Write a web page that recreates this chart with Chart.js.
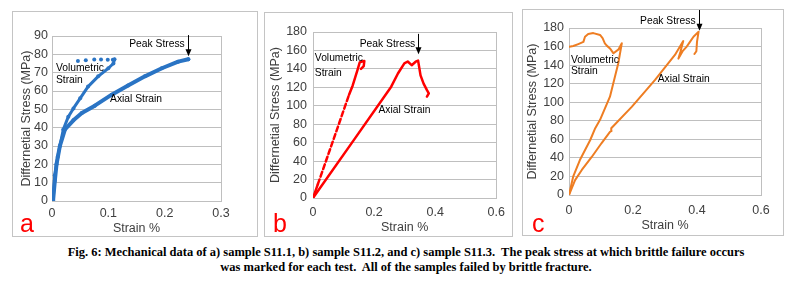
<!DOCTYPE html>
<html>
<head>
<meta charset="utf-8">
<script src="https://cdn.jsdelivr.net/npm/chart.js@4.4.1/dist/chart.umd.min.js"></script>
<style>
  body { margin: 0; background: #fff; }
  #fig { position: relative; width: 786px; height: 287px; overflow: hidden; font-family: 'Liberation Sans', Arial, sans-serif; }
  .panel { position: absolute; border: 1px solid #c4c4c4; }
  .panel canvas { display: block; }
  .tag { position: absolute; color: #ff0000; font-size: 25px; line-height: 25px; }
  .cap { position: absolute; left: 406px; white-space: pre; line-height: 14px; color: #000;
         font: bold 12px 'Liberation Serif', 'Times New Roman', serif; transform-origin: 0 0; }
</style>
</head>
<body>
<div id="fig">
  <div class="panel" style="left:12px;top:11px;width:244px;height:224px"><canvas id="ca" width="244" height="224"></canvas></div>
  <div class="panel" style="left:264px;top:12px;width:247px;height:223px"><canvas id="cb" width="247" height="223"></canvas></div>
  <div class="panel" style="left:522px;top:9px;width:260px;height:225px"><canvas id="cc" width="260" height="225"></canvas></div>
  <div class="tag" style="left:20px;top:211px">a</div>
  <div class="tag" style="left:273px;top:211px">b</div>
  <div class="tag" style="left:532px;top:211px">c</div>
  <div class="cap" id="cap1" style="top:245px">Fig. 6: Mechanical data of a) sample S11.1, b) sample S11.2, and c) sample S11.3.  The peak stress at which brittle failure occurs</div>
  <div class="cap" id="cap2" style="top:260px">was marked for each test.  All of the samples failed by brittle fracture.</div>
</div>
<script>
const FONT = "'Liberation Sans', Arial, sans-serif";
const TICK = '#404040';
const GRID = '#bfbfbf';
Chart.defaults.font.family = FONT;

// a) sample S11.1 (strain %, stress MPa)
const aAxialX = [0, 0.002, 0.005, 0.008, 0.014, 0.023, 0.038, 0.053, 0.076, 0.106, 0.135, 0.165, 0.195, 0.224, 0.242];
const aAxialY = [0, 0.5, 11, 20, 30, 39, 44, 48, 52, 58, 63, 68, 72.4, 76, 77.3];
const aVolX = [0, 0.002, 0.005, 0.010, 0.020, 0.029, 0.038, 0.050, 0.064, 0.082, 0.100, 0.109, 0.111];
const aVolY = [0, 0.5, 14, 24, 39, 46, 50.5, 56, 62.4, 68, 72.4, 75, 77.3];
const aVolTopX = [0.108, 0.099, 0.087, 0.075, 0.060, 0.046];
const aVolTopY = [77, 77, 77.2, 77.2, 76.8, 76.4];

// b) sample S11.2
const bVolX = [0, 0.016, 0.075, 0.118, 0.130, 0.145, 0.153, 0.160, 0.168, 0.166, 0.157];
const bVolY = [0, 15, 71, 112, 122, 138, 147, 148, 148.5, 143, 140];
const bAxialX = [0, 0.134, 0.256, 0.278, 0.299, 0.310, 0.323, 0.336, 0.344, 0.352, 0.362, 0.373, 0.379, 0.373];
const bAxialY = [0, 63, 120.7, 135, 146, 148, 144, 147.8, 149, 133, 124, 117, 113.5, 110];

// c) sample S11.3
const cVolX = [0, 0.013, 0.034, 0.066, 0.082, 0.097, 0.128, 0.154, 0.165, 0.155, 0.139, 0.128, 0.118, 0.112, 0.105, 0.097, 0.076, 0.060, 0.050, 0.045, 0.029, 0.0135, 0.001];
const cVolY = [0, 19.7, 37.7, 59, 72, 81, 106, 142, 163.5, 157, 152.7, 158, 161, 163.5, 169, 172.5, 174.5, 173.5, 170.6, 165, 162.7, 160.6, 159.8];
const cAxialX = [0, 0.019, 0.040, 0.071, 0.102, 0.128, 0.133, 0.132, 0.196, 0.269, 0.331, 0.357, 0.348, 0.342, 0.355, 0.368, 0.378, 0.389, 0.405, 0.400, 0.398, 0.392];
const cAxialY = [0, 16, 27, 41, 56, 68, 69, 72, 95, 124, 151, 166, 154, 147, 155, 160, 165, 170.6, 176, 165, 155, 152];

const xTicksA = [0, 0.1, 0.2, 0.3];
const yTicksA = [0, 10, 20, 30, 40, 50, 60, 70, 80, 90];
const xTicksBC = [0, 0.2, 0.4, 0.6];
const yTicksBC = [0, 20, 40, 60, 80, 100, 120, 140, 160, 180];

const pts = (xs, ys) => xs.map((x, i) => ({ x, y: ys[i] }));

// plot-area frame, text labels and the peak-stress arrow
function notesPlugin(notes, arrow) {
  return {
    id: 'notes',
    beforeDatasetsDraw(chart) {
      const { ctx, chartArea: a } = chart;
      ctx.save();
      ctx.strokeStyle = GRID; ctx.lineWidth = 1;
      ctx.strokeRect(Math.round(a.left) + 0.5, Math.round(a.top) + 0.5, Math.round(a.width), Math.round(a.height));
      ctx.restore();
    },
    afterDatasetsDraw(chart) {
      const { ctx } = chart;
      const xs = chart.scales.x, ys = chart.scales.y;
      ctx.save();
      ctx.fillStyle = '#000';
      ctx.font = '10.3px ' + FONT;
      ctx.textBaseline = 'middle'; ctx.textAlign = 'left';
      for (const n of notes) ctx.fillText(n.t, xs.getPixelForValue(n.x), ys.getPixelForValue(n.y));
      const ax = Math.round(xs.getPixelForValue(arrow.x)) + 0.5;
      const y0 = ys.getPixelForValue(arrow.y0), y1 = ys.getPixelForValue(arrow.y1);
      ctx.strokeStyle = '#000'; ctx.lineWidth = 1;
      ctx.beginPath(); ctx.moveTo(ax, y0); ctx.lineTo(ax, y1 - 5); ctx.stroke();
      ctx.beginPath(); ctx.moveTo(ax - 3, y1 - 7); ctx.lineTo(ax + 3, y1 - 7); ctx.lineTo(ax, y1); ctx.closePath(); ctx.fill();
      ctx.restore();
    },
  };
}

function makeChart(id, c) {
  const tickFont = { size: 12.5 };
  return new Chart(document.getElementById(id), {
    type: 'scatter',
    data: { datasets: c.datasets },
    options: {
      responsive: false, animation: false, devicePixelRatio: 1,
      layout: { padding: { left: 0, top: c.pad.t, right: c.pad.r, bottom: 0 } },
      plugins: { legend: { display: false }, tooltip: { enabled: false } },
      scales: {
        x: {
          type: 'linear', min: c.xTicks[0], max: c.xTicks[c.xTicks.length - 1],
          afterBuildTicks: (s) => { s.ticks = c.xTicks.map((v) => ({ value: v })); },
          afterFit: (s) => { s.height = c.pad.b; },
          grid: { display: false, drawTicks: false }, border: { display: false },
          ticks: { padding: c.tpx, font: tickFont, color: TICK, maxRotation: 0, autoSkip: false, callback: (v) => String(v) },
          title: { display: true, text: 'Strain %', font: tickFont, color: TICK, padding: { top: 0, bottom: c.ttx } },
        },
        y: {
          type: 'linear', min: c.yTicks[0], max: c.yTicks[c.yTicks.length - 1],
          afterBuildTicks: (s) => { s.ticks = c.yTicks.map((v) => ({ value: v })); },
          afterFit: (s) => { s.width = c.pad.l; },
          grid: { color: GRID, drawTicks: false }, border: { display: false },
          ticks: { padding: c.tpy, font: tickFont, color: TICK, autoSkip: false, callback: (v) => String(v) },
          title: { display: true, text: 'Differnetial Stress (MPa)', font: tickFont, color: TICK, padding: { top: c.tty, bottom: 0 } },
        },
      },
    },
    plugins: [notesPlugin(c.notes, c.arrow)],
  });
}

const BLUE = '#2a74c4', RED = '#ff0000', ORANGE = '#ee7d22';
const lineSet = (data, color, w, extra) => Object.assign({
  data, showLine: true, borderColor: color, backgroundColor: color, borderWidth: w,
  pointRadius: 0, borderJoinStyle: 'round', borderCapStyle: 'round',
}, extra || {});

makeChart('ca', {
  xTicks: xTicksA, yTicks: yTicksA,
  pad: { l: 39, t: 24, r: 36, b: 35 }, tpx: 5, tpy: 4, ttx: 0, tty: 6,
  datasets: [
    lineSet(pts(aAxialX, aAxialY), BLUE, 4, { pointRadius: 2, pointBorderWidth: 0 }),
    lineSet(pts(aVolX, aVolY), BLUE, 3, { pointRadius: 2, pointBorderWidth: 0 }),
    lineSet(pts(aVolTopX, aVolTopY), BLUE, 0, { showLine: false, pointRadius: 2, pointBorderWidth: 0 }),
  ],
  notes: [
    { t: 'Peak Stress', x: 0.137, y: 85.6 },
    { t: 'Volumetric', x: 0.007, y: 72.5 },
    { t: 'Strain', x: 0.007, y: 66 },
    { t: 'Axial Strain', x: 0.103, y: 55.6 },
  ],
  arrow: { x: 0.242, y0: 90.5, y1: 79 },
});

makeChart('cb', {
  xTicks: xTicksBC, yTicks: yTicksBC,
  pad: { l: 48, t: 19, r: 11, b: 38 }, tpx: 7, tpy: 6, ttx: 1, tty: 3,
  datasets: [
    lineSet(pts(bVolX, bVolY), RED, 2.5, {
      segment: { borderDash: (s) => (s.p0.parsed.y >= 15 && s.p1.parsed.y <= 112 ? [5, 3] : undefined) },
    }),
    lineSet(pts(bAxialX, bAxialY), RED, 2.5),
  ],
  notes: [
    { t: 'Peak Stress', x: 0.153, y: 167 },
    { t: 'Volumetric', x: 0.006, y: 151.5 },
    { t: 'Strain', x: 0.006, y: 135.9 },
    { t: 'Axial Strain', x: 0.214, y: 95.4 },
  ],
  arrow: { x: 0.343, y0: 178, y1: 156 },
});

makeChart('cc', {
  xTicks: xTicksBC, yTicks: yTicksBC,
  pad: { l: 46, t: 18, r: 22, b: 40 }, tpx: 8, tpy: 5, ttx: 2, tty: 2,
  datasets: [
    lineSet(pts(cVolX, cVolY), ORANGE, 2),
    lineSet(pts(cAxialX, cAxialY), ORANGE, 2),
  ],
  notes: [
    { t: 'Peak Stress', x: 0.222, y: 187.9 },
    { t: 'Volumetric', x: 0.006, y: 145.5 },
    { t: 'Strain', x: 0.006, y: 133.6 },
    { t: 'Axial Strain', x: 0.277, y: 125.3 },
  ],
  arrow: { x: 0.406, y0: 212, y1: 177 },
});

// caption: squeeze to the width of the original line
const cap1 = document.getElementById('cap1'), cap2 = document.getElementById('cap2');
const k = 677 / cap1.offsetWidth;
for (const el of [cap1, cap2]) el.style.transform = `scaleX(${k}) translateX(-50%)`;
</script>
</body>
</html>
